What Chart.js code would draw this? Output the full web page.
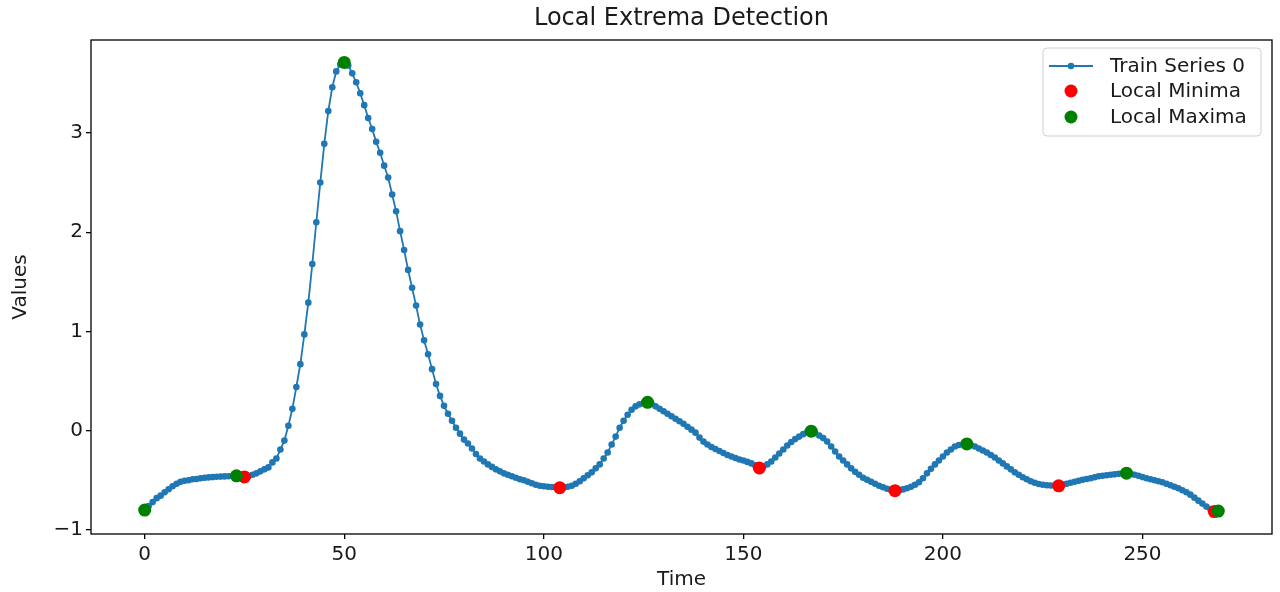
<!DOCTYPE html>
<html>
<head>
<meta charset="utf-8">
<title>Local Extrema Detection</title>
<script src="https://cdn.jsdelivr.net/npm/chart.js@4.4.1/dist/chart.umd.min.js"></script>
<style>
  html, body { margin: 0; padding: 0; background: #fff; }
  canvas { display: block; }
</style>
</head>
<body>
<canvas id="extremaChart" width="1280" height="592"></canvas>
<script>
// series values, one per time step (0..269)
const seriesValues = [
  -0.80, -0.76, -0.72, -0.68, -0.655, -0.62, -0.59, -0.56, -0.535, -0.515,
  -0.505, -0.50, -0.49, -0.487, -0.48, -0.475, -0.471, -0.468, -0.465, -0.463,
  -0.461, -0.459, -0.457, -0.455, -0.461, -0.466, -0.458, -0.445, -0.43, -0.41,
  -0.39, -0.37, -0.32, -0.28, -0.19, -0.10, 0.05, 0.22, 0.44, 0.67,
  0.97, 1.29, 1.68, 2.10, 2.50, 2.89, 3.22, 3.46, 3.62, 3.69,
  3.71, 3.68, 3.60, 3.51, 3.40, 3.28, 3.15, 3.04, 2.91, 2.80,
  2.67, 2.55, 2.38, 2.21, 2.01, 1.82, 1.62, 1.44, 1.26, 1.07,
  0.91, 0.77, 0.62, 0.47, 0.35, 0.25, 0.17, 0.10, 0.03, -0.03,
  -0.09, -0.13, -0.18, -0.235, -0.28, -0.31, -0.34, -0.365, -0.39, -0.41,
  -0.43, -0.445, -0.46, -0.475, -0.49, -0.50, -0.515, -0.53, -0.545, -0.555,
  -0.56, -0.565, -0.568, -0.571, -0.575, -0.572, -0.565, -0.555, -0.535, -0.51,
  -0.48, -0.45, -0.42, -0.38, -0.34, -0.28, -0.22, -0.14, -0.06, 0.03,
  0.10, 0.16, 0.21, 0.245, 0.265, 0.278, 0.285, 0.27, 0.245, 0.22,
  0.195, 0.17, 0.145, 0.12, 0.095, 0.07, 0.04, 0.01, -0.02, -0.07,
  -0.11, -0.14, -0.165, -0.185, -0.205, -0.225, -0.245, -0.26, -0.275, -0.29,
  -0.30, -0.315, -0.33, -0.35, -0.376, -0.36, -0.34, -0.31, -0.27, -0.23,
  -0.19, -0.15, -0.115, -0.085, -0.06, -0.035, -0.015, -0.005, -0.025, -0.05,
  -0.075, -0.11, -0.16, -0.21, -0.26, -0.30, -0.34, -0.38, -0.415, -0.445,
  -0.475, -0.495, -0.515, -0.535, -0.555, -0.57, -0.585, -0.597, -0.605, -0.60,
  -0.592, -0.58, -0.565, -0.545, -0.52, -0.48, -0.43, -0.385, -0.34, -0.30,
  -0.26, -0.22, -0.19, -0.16, -0.145, -0.138, -0.134, -0.145, -0.16, -0.18,
  -0.20, -0.22, -0.245, -0.27, -0.30, -0.33, -0.36, -0.39, -0.42, -0.445,
  -0.47, -0.49, -0.51, -0.525, -0.537, -0.545, -0.55, -0.552, -0.553, -0.556,
  -0.545, -0.535, -0.525, -0.515, -0.505, -0.495, -0.487, -0.48, -0.47, -0.46,
  -0.455, -0.45, -0.445, -0.44, -0.435, -0.432, -0.428, -0.435, -0.445, -0.455,
  -0.468, -0.48, -0.49, -0.50, -0.51, -0.52, -0.535, -0.55, -0.565, -0.58,
  -0.60, -0.62, -0.645, -0.675, -0.705, -0.735, -0.765, -0.79, -0.815, -0.81
];

// time steps flagged as extrema
const minimaTimes = [25, 104, 154, 188, 229, 268];
const maximaTimes = [0, 23, 50, 126, 167, 206, 246, 269];

// tick labels
const xTicks = [0, 50, 100, 150, 200, 250];
const yTicks = [-1, 0, 1, 2, 3];

const FONT = "'DejaVu Sans', sans-serif";
const TEXT_COLOR = "#1a1a1a";

// matplotlib-like autoscale: 5% margin on each side
const lastTime = seriesValues.length - 1;
const yLow = Math.min(...seriesValues);
const yHigh = Math.max(...seriesValues);
const xMin = -0.05 * lastTime;
const xMax = lastTime + 0.05 * lastTime;
const yMin = yLow - 0.05 * (yHigh - yLow);
const yMax = yHigh + 0.05 * (yHigh - yLow);

const linePoints = seriesValues.map((v, i) => ({ x: i, y: v }));
const minimaPoints = minimaTimes.map((t) => ({ x: t, y: seriesValues[t] }));
const maximaPoints = maximaTimes.map((t) => ({ x: t, y: seriesValues[t] }));

// title, axes frame and legend box, drawn the matplotlib way
const framePlugin = {
  id: "frame",
  afterDraw(chart) {
    const { ctx, chartArea } = chart;
    const { left, right, top, bottom } = chartArea;
    ctx.save();

    // frame round the plot
    ctx.strokeStyle = "#000";
    ctx.lineWidth = 1.3;
    ctx.strokeRect(left, top, right - left, bottom - top);

    // title, centred over the axes
    ctx.fillStyle = TEXT_COLOR;
    ctx.font = "24px " + FONT;
    ctx.textAlign = "center";
    ctx.textBaseline = "middle";
    ctx.fillText("Local Extrema Detection", (left + right) / 2, 19);

    // legend box
    const bx = 1043, by = 48, bw = 218, bh = 88;
    ctx.beginPath();
    ctx.roundRect(bx, by, bw, bh, 4);
    ctx.fillStyle = "rgba(255,255,255,0.8)";
    ctx.fill();
    ctx.strokeStyle = "#d0d0d0";
    ctx.lineWidth = 1;
    ctx.stroke();

    const rows = [66, 91, 117];
    ctx.font = "20px " + FONT;
    ctx.textAlign = "left";
    chart.data.datasets.forEach((ds, i) => {
      const y = rows[i];
      if (ds.type === "line") {
        ctx.strokeStyle = ds.borderColor;
        ctx.lineWidth = ds.borderWidth;
        ctx.beginPath();
        ctx.moveTo(1049, y);
        ctx.lineTo(1093, y);
        ctx.stroke();
      }
      ctx.fillStyle = ds.backgroundColor;
      ctx.beginPath();
      ctx.arc(1071, y, ds.pointRadius, 0, Math.PI * 2);
      ctx.fill();
      ctx.fillStyle = TEXT_COLOR;
      ctx.fillText(ds.label, 1110, y + 1);
    });

    ctx.restore();
  },
};

const ctx = document.getElementById("extremaChart").getContext("2d");
new Chart(ctx, {
  data: {
    datasets: [
      {
        type: "line",
        label: "Train Series 0",
        data: linePoints,
        borderColor: "#1f77b4",
        backgroundColor: "#1f77b4",
        borderWidth: 1.8,
        pointRadius: 3.3,
        pointBorderWidth: 0,
        tension: 0,
        order: 3,
      },
      {
        type: "scatter",
        label: "Local Minima",
        data: minimaPoints,
        backgroundColor: "#ff0000",
        pointRadius: 6.5,
        pointBorderWidth: 0,
        order: 2,
      },
      {
        type: "scatter",
        label: "Local Maxima",
        data: maximaPoints,
        backgroundColor: "#008000",
        pointRadius: 6.5,
        pointBorderWidth: 0,
        order: 1,
      },
    ],
  },
  options: {
    responsive: false,
    animation: false,
    devicePixelRatio: 1,
    layout: { padding: { left: 0, right: 8, top: 40, bottom: 0 } },
    plugins: {
      legend: { display: false },
      tooltip: { enabled: false },
      title: { display: false },
    },
    scales: {
      x: {
        type: "linear",
        min: xMin,
        max: xMax,
        afterBuildTicks: (scale) => {
          scale.ticks = xTicks.map((v) => ({ value: v }));
        },
        afterFit: (scale) => {
          scale.height = 58;
        },
        border: { display: false },
        grid: {
          drawOnChartArea: false,
          drawTicks: true,
          tickLength: 5,
          color: "#000",
          lineWidth: 1.3,
        },
        ticks: {
          font: { family: FONT, size: 20 },
          color: TEXT_COLOR,
          padding: 4,
          maxRotation: 0,
        },
        title: {
          display: true,
          text: "Time",
          font: { family: FONT, size: 20 },
          color: TEXT_COLOR,
          padding: { top: 0, bottom: 0 },
        },
      },
      y: {
        type: "linear",
        min: yMin,
        max: yMax,
        afterBuildTicks: (scale) => {
          scale.ticks = yTicks.map((v) => ({ value: v }));
        },
        afterFit: (scale) => {
          scale.width = 91;
        },
        border: { display: false },
        grid: {
          drawOnChartArea: false,
          drawTicks: true,
          tickLength: 5,
          color: "#000",
          lineWidth: 1.3,
        },
        ticks: {
          font: { family: FONT, size: 20 },
          color: TEXT_COLOR,
          padding: 3,
          callback: (v) => (v < 0 ? "\u2212" + Math.abs(v) : String(v)),
        },
        title: {
          display: true,
          text: "Values",
          font: { family: FONT, size: 20 },
          color: TEXT_COLOR,
          padding: { top: 9, bottom: 0 },
        },
      },
    },
  },
  plugins: [framePlugin],
});
</script>
</body>
</html>
